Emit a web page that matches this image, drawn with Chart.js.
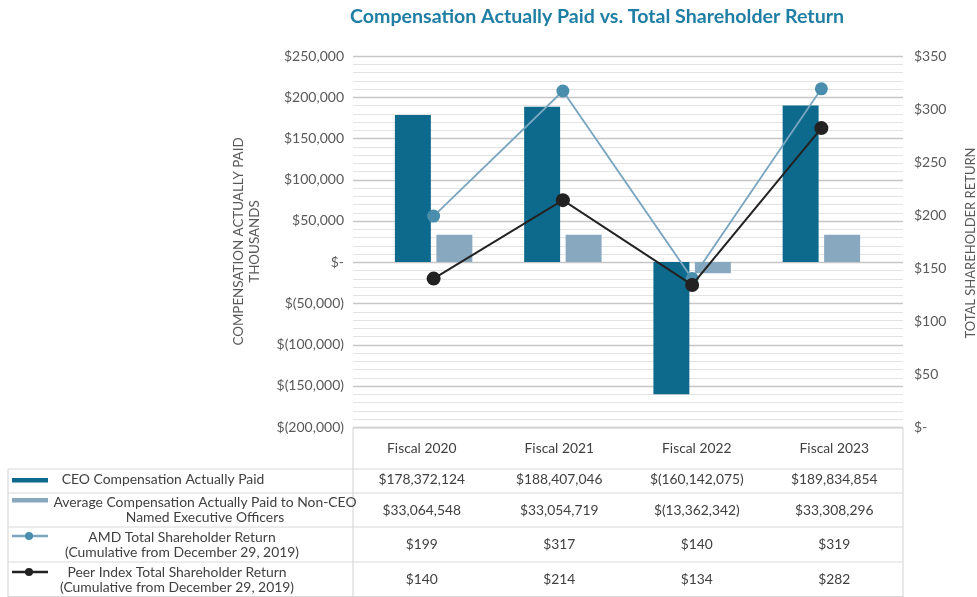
<!DOCTYPE html>
<html>
<head>
<meta charset="utf-8">
<script src="https://cdn.jsdelivr.net/npm/chart.js@4.4.2/dist/chart.umd.min.js"></script>
<style>
  html, body { margin: 0; padding: 0; background: #fff; }
  #wrap { width: 977px; height: 597px; }
</style>
</head>
<body>
<div id="wrap"><canvas id="chart" width="977" height="597"></canvas></div>
<script>
const title = 'Compensation Actually Paid vs. Total Shareholder Return';
const categories = ['Fiscal 2020', 'Fiscal 2021', 'Fiscal 2022', 'Fiscal 2023'];
const ceoPaid = [178372124, 188407046, -160142075, 189834854];
const neoPaid = [33064548, 33054719, -13362342, 33308296];
const amdTsr = [199, 317, 140, 319];
const peerTsr = [140, 214, 134, 282];
const leftTicks = [-200000, -150000, -100000, -50000, 0, 50000, 100000, 150000, 200000, 250000];
const rightTicks = [0, 50, 100, 150, 200, 250, 300, 350];

const seriesNames = [
  ['CEO Compensation Actually Paid'],
  ['Average Compensation Actually Paid to Non-CEO', 'Named Executive Officers'],
  ['AMD Total Shareholder Return', '(Cumulative from December 29, 2019)'],
  ['Peer Index Total Shareholder Return', '(Cumulative from December 29, 2019)']
];

const FONT = 'Lato, "Open Sans", sans-serif';
const C_CEO = '#0d6a8c';
const C_NEO = '#88a8c0';
const C_AMD = '#7aa6c1';
const C_AMD_PT = '#4a8dac';
const C_PEER = '#222222';

function money(v) {
  if (v === 0) return '$-';
  const s = Math.abs(v).toLocaleString('en-US');
  return v < 0 ? '$(' + s + ')' : '$' + s;
}

// table geometry (outside the plot area)
const tbl = {
  left: 8, split: 353, right: 903,
  top: 428, rows: [469, 493, 527, 562, 596.5]
};

const tablePlugin = {
  id: 'tablePlugin',
  beforeDatasetsDraw(chart) {
    const { ctx } = chart;
    const y = chart.scales.y;
    ctx.save();
    y.ticks.forEach(t => {
      const py = Math.round(y.getPixelForValue(t.value)) + 0.5;
      const major = t.value % 50000 === 0;
      ctx.strokeStyle = major ? '#c6c6c6' : '#e3e3e3';
      ctx.lineWidth = major ? 1.5 : 1.2;
      ctx.beginPath();
      ctx.moveTo(tbl.split, py);
      ctx.lineTo(tbl.right, py);
      ctx.stroke();
    });
    ctx.restore();
  },
  afterDraw(chart) {
    const { ctx } = chart;
    ctx.save();

    // title
    ctx.fillStyle = '#1f7ea3';
    ctx.font = 'bold 19.6px ' + FONT;
    ctx.textAlign = 'center';
    ctx.textBaseline = 'middle';
    ctx.fillText(title, 597, 17);

    // right axis title
    ctx.save();
    ctx.translate(971, 243);
    ctx.rotate(-Math.PI / 2);
    ctx.fillStyle = '#595959';
    ctx.font = '13px ' + FONT;
    ctx.fillText('TOTAL SHAREHOLDER RETURN', 0, 0);
    ctx.restore();

    // table lines
    ctx.strokeStyle = '#d9d9d9';
    ctx.lineWidth = 1.2;
    ctx.beginPath();
    ctx.moveTo(tbl.split, tbl.top); ctx.lineTo(tbl.right, tbl.top);
    tbl.rows.forEach(r => { ctx.moveTo(tbl.left, r); ctx.lineTo(tbl.right, r); });
    ctx.moveTo(tbl.split, tbl.top); ctx.lineTo(tbl.split, 597);
    ctx.moveTo(tbl.right, tbl.top); ctx.lineTo(tbl.right, 597);
    ctx.moveTo(tbl.left, tbl.rows[0]); ctx.lineTo(tbl.left, 597);
    ctx.stroke();

    // header and values
    const colW = (tbl.right - tbl.split) / categories.length;
    ctx.fillStyle = '#404040';
    ctx.font = '13.8px ' + FONT;
    const valueRows = [ceoPaid, neoPaid, amdTsr, peerTsr];
    const valueY = [480, 511, 545, 580];
    categories.forEach((c, i) => {
      const cx = tbl.split + colW * (i + 0.5);
      ctx.fillText(c, cx, 449);
      valueRows.forEach((row, r) => ctx.fillText(money(row[i]), cx, valueY[r]));
    });

    // legend labels
    ctx.font = '13.9px ' + FONT;
    const labelX = [163, 205, 182, 177];
    const labelY = [[480], [503, 518], [538, 553], [573, 588]];
    seriesNames.forEach((lines, r) => {
      lines.forEach((t, k) => ctx.fillText(t, labelX[r], labelY[r][k]));
    });

    // legend keys
    ctx.fillStyle = C_CEO;
    ctx.fillRect(12, 478, 36, 4.5);
    ctx.fillStyle = C_NEO;
    ctx.fillRect(12, 498, 36, 4.5);
    [[536, C_AMD, C_AMD_PT], [572, C_PEER, C_PEER]].forEach(([ky, lc, pc]) => {
      ctx.strokeStyle = lc;
      ctx.lineWidth = 2.5;
      ctx.beginPath();
      ctx.moveTo(12, ky); ctx.lineTo(48, ky);
      ctx.stroke();
      ctx.fillStyle = pc;
      ctx.beginPath();
      ctx.arc(29, ky, 4, 0, Math.PI * 2);
      ctx.fill();
    });

    ctx.restore();
  }
};

new Chart(document.getElementById('chart'), {
  type: 'bar',
  data: {
    labels: categories,
    datasets: [
      {
        type: 'line',
        label: 'Peer Index Total Shareholder Return',
        data: peerTsr,
        yAxisID: 'y2',
        borderColor: C_PEER,
        backgroundColor: C_PEER,
        borderWidth: 2,
        pointRadius: 7,
        pointBackgroundColor: C_PEER,
        pointBorderWidth: 0,
        tension: 0,
        order: 1
      },
      {
        type: 'line',
        label: 'AMD Total Shareholder Return',
        data: amdTsr,
        yAxisID: 'y2',
        borderColor: C_AMD,
        backgroundColor: C_AMD_PT,
        borderWidth: 1.8,
        pointRadius: 6.5,
        pointBackgroundColor: C_AMD_PT,
        pointBorderWidth: 0,
        tension: 0,
        order: 2
      },
      {
        label: 'CEO Compensation Actually Paid',
        data: ceoPaid.map(v => v / 1000),
        backgroundColor: C_CEO,
        yAxisID: 'y',
        categoryPercentage: 0.642,
        barPercentage: 0.867,
        order: 3
      },
      {
        label: 'Average Compensation Actually Paid to Non-CEO Named Executive Officers',
        data: neoPaid.map(v => v / 1000),
        backgroundColor: C_NEO,
        yAxisID: 'y',
        categoryPercentage: 0.642,
        barPercentage: 0.867,
        order: 4
      }
    ]
  },
  options: {
    responsive: false,
    animation: false,
    layout: {
      padding: { top: 56, left: 0, right: 0, bottom: 0 }
    },
    plugins: {
      legend: { display: false },
      title: { display: false },
      tooltip: { enabled: false }
    },
    scales: {
      x: {
        grid: { display: false },
        border: { display: false },
        ticks: { display: false },
        afterFit: s => { s.height = 170; }
      },
      y: {
        position: 'left',
        min: -200000,
        max: 250000,
        grid: { display: false },
        border: { display: false },
        ticks: {
          stepSize: 10000,
          autoSkip: false,
          padding: 17,
          color: '#595959',
          font: { family: FONT, size: 14 },
          callback: v => leftTicks.includes(v) ? money(v) : ''
        },
        title: {
          display: true,
          text: ['COMPENSATION ACTUALLY PAID', 'THOUSANDS'],
          color: '#595959',
          font: { family: FONT, size: 13.4, lineHeight: 1.25 },
          padding: { top: 230, bottom: 0 }
        },
        afterFit: s => { s.width = 369; }
      },
      y2: {
        position: 'right',
        min: 0,
        max: 350,
        grid: { display: false },
        border: { display: false },
        ticks: {
          stepSize: 50,
          padding: 20,
          color: '#595959',
          font: { family: FONT, size: 14 },
          callback: v => rightTicks.includes(v) ? money(v) : ''
        },
        afterFit: s => { s.width = 91; }
      }
    }
  },
  plugins: [tablePlugin]
});
</script>
</body>
</html>
